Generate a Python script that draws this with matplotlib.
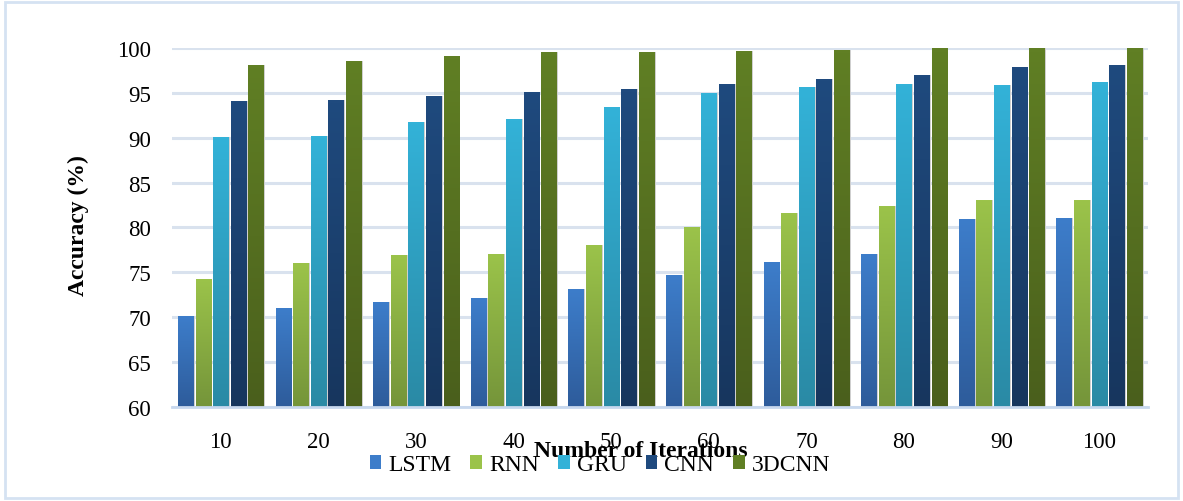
import numpy as np
import matplotlib.pyplot as plt
from matplotlib.colors import LinearSegmentedColormap
from matplotlib.patches import Rectangle

plt.rcParams['font.family'] = ['Liberation Serif', 'DejaVu Serif']

iterations = ['10', '20', '30', '40', '50', '60', '70', '80', '90', '100']
models = ['LSTM', 'RNN', 'GRU', 'CNN', '3DCNN']

lstm = [70.1, 71.0, 71.7, 72.1, 73.1, 74.7, 76.1, 77.1, 81.0, 81.1]
rnn = [74.3, 76.0, 76.9, 77.1, 78.1, 80.1, 81.6, 82.4, 83.1, 83.1]
gru = [90.1, 90.2, 91.8, 92.1, 93.4, 95.0, 95.6, 96.0, 95.9, 96.2]
cnn = [94.1, 94.2, 94.7, 95.1, 95.4, 96.0, 96.6, 97.0, 97.9, 98.1]
cnn3d = [98.1, 98.6, 99.1, 99.5, 99.6, 99.7, 99.8, 100.0, 100.0, 100.0]
series = [lstm, rnn, gru, cnn, cnn3d]

# top / bottom colour of each gradient fill
grad = [('#3d7dca', '#2e5c9b'),
        ('#9bc34a', '#75953a'),
        ('#33b2d8', '#2a8aa5'),
        ('#1f4a7e', '#17365e'),
        ('#607f24', '#4a5f1c')]

fig = plt.figure(figsize=(11.83, 5.02), dpi=100)
ax = fig.add_axes([0.1454, 0.1873, 0.8250, 0.7151])

# light blue frame round the whole figure
fig.patches.append(Rectangle((0.004, 0.006), 0.992, 0.988, transform=fig.transFigure,
                             fill=False, edgecolor='#d5e2f2', linewidth=2))

x = np.arange(len(iterations))
step = 0.18
width = 0.155
ymin = 60

for i, (vals, (top, bot)) in enumerate(zip(series, grad)):
    cmap = LinearSegmentedColormap.from_list('g%d' % i, [bot, top])
    pos = x + (i - 2) * step
    # soft shadow behind the bars
    ax.bar(pos + 0.012, np.array(vals) - ymin + 0.25, width=width + 0.01, bottom=ymin - 0.25,
           color='#cfcfcf', edgecolor='none', zorder=2)
    bars = ax.bar(pos, np.array(vals) - ymin, width=width, bottom=ymin,
                  color=top, edgecolor='none', zorder=3, label=models[i])
    for b in bars:
        x0, y0 = b.get_x(), b.get_y()
        img = ax.imshow(np.linspace(1, 0, 64).reshape(-1, 1), cmap=cmap, aspect='auto',
                        extent=(x0, x0 + b.get_width(), y0, y0 + b.get_height()),
                        zorder=3.5, interpolation='bicubic')
        img.set_clip_path(b)

ax.set_xlim(-0.5, len(iterations) - 0.5)
ax.set_ylim(60, 100)
ax.set_yticks(np.arange(60, 101, 5))
ax.set_xticks(x)
ax.set_xticklabels(iterations)
ax.tick_params(axis='both', length=0, labelsize=16.5, colors='black')
ax.tick_params(axis='x', pad=17)
ax.tick_params(axis='y', pad=15)

ax.grid(axis='y', color='#d9e2ee', linewidth=2.2, zorder=0)
ax.set_axisbelow(True)
for s in ['top', 'right', 'left']:
    ax.spines[s].set_visible(False)
ax.spines['bottom'].set_color('#c8d8ee')
ax.spines['bottom'].set_linewidth(2)
ax.spines['bottom'].set_zorder(4)

fig.text(78 / 1183, 1 - 226 / 502, 'Accuracy (%)', rotation=90, fontsize=17,
         fontweight='bold', ha='center', va='center')
fig.text(641 / 1183, 1 - 452 / 502, 'Number of Iterations', fontsize=17,
         fontweight='bold', ha='center', va='center')

handles = [Rectangle((0, 0), 1, 1, facecolor=t, edgecolor='none') for t, _ in grad]
fig.legend(handles, models, loc='center', bbox_to_anchor=(600 / 1183, 1 - 466 / 502),
           ncol=5, frameon=False, fontsize=17, handlelength=0.5, handleheight=0.5,
           handletextpad=0.3, columnspacing=0.8, borderpad=0.1)

fig.savefig('out.png', dpi=100)
